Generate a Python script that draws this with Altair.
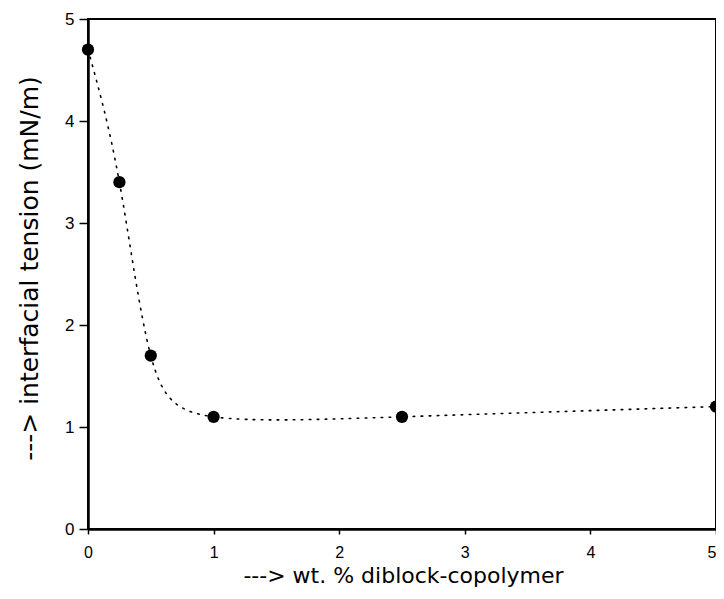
import altair as alt
import pandas as pd

# data
wt_percent = [0, 0.25, 0.5, 1, 2.5, 5]
tension = [4.7, 3.4, 1.7, 1.1, 1.1, 1.2]
tick_values = [0, 1, 2, 3, 4, 5]

df = pd.DataFrame({"x": wt_percent, "y": tension})

xscale = alt.Scale(domain=[0, 5], nice=False, zero=False)
yscale = alt.Scale(domain=[0, 5], nice=False, zero=False)

x_axis = alt.Axis(
    values=tick_values, format="d", grid=False,
    title="---> wt. % diblock-copolymer",
    titleFont="DejaVu Sans", titleFontSize=22, titleFontWeight="normal",
    titleColor="black", titleX=315, titleY=36, titleBaseline="top",
    titleAnchor="middle", titleAlign="center",
    labelFont="Liberation Sans", labelFontSize=16, labelColor="black",
    labelAlign={"condition": {"test": "datum.value == 5", "value": "right"}, "value": "center"},
    labelPadding=10, tickSize=5, tickWidth=1.5, tickColor="black",
    domainColor="black", domainWidth=2.5, labelFlush=False,
)
y_axis = alt.Axis(
    values=tick_values, format="d", grid=False,
    title="---> interfacial tension (mN/m)",
    titleFont="DejaVu Sans", titleFontSize=25, titleFontWeight="normal",
    titleColor="black", titleX=-46, titleY=249, titleAngle=-90,
    titleBaseline="bottom", titleAlign="center",
    labelFont="Liberation Sans", labelFontSize=17, labelColor="black",
    labelPadding=5, tickSize=9, tickWidth=1.5, tickColor="black",
    domainColor="black", domainWidth=2.5, labelFlush=False,
)

base = alt.Chart(df)

line = base.mark_line(
    interpolate="natural", color="black", strokeWidth=1.6,
    strokeDash=[1.6, 6.4], strokeCap="round", clip=True,
).encode(
    x=alt.X("x:Q", scale=xscale, axis=x_axis),
    y=alt.Y("y:Q", scale=yscale, axis=y_axis),
)

points = base.mark_circle(size=150, color="black", opacity=1).encode(
    x=alt.X("x:Q", scale=xscale),
    y=alt.Y("y:Q", scale=yscale),
)

chart = (
    alt.layer(line, points)
    .properties(
        width=628, height=510,
        autosize=alt.AutoSizeParams(type="none"),
        padding={"left": 80, "top": 11, "right": 0, "bottom": 60},
        background="white",
    )
    .configure_view(stroke="black", strokeWidth=2)
)

chart.save("out.html", embed_options={"renderer": "svg", "actions": False})
